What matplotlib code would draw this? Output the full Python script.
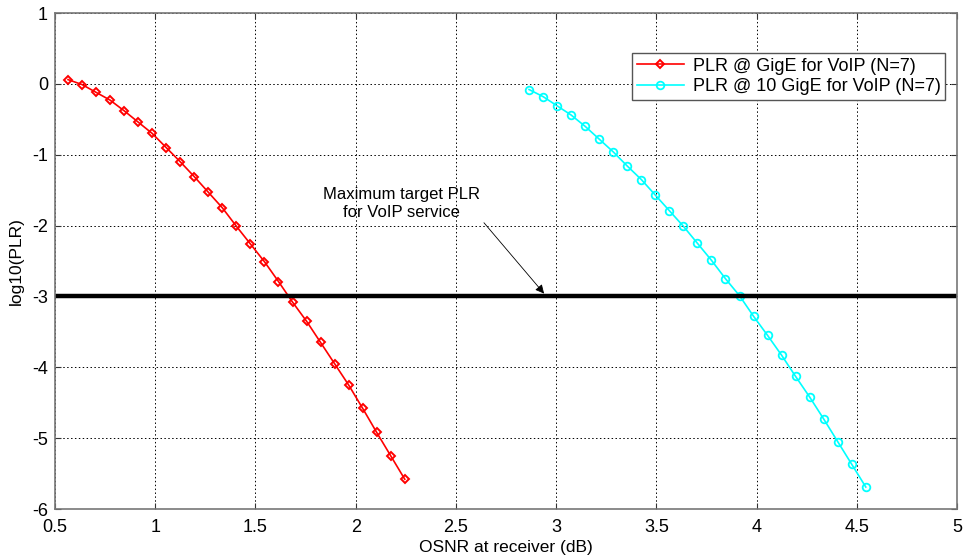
import matplotlib
matplotlib.use('Agg')
import matplotlib.pyplot as plt

plt.rcParams['font.family'] = ['Liberation Sans', 'DejaVu Sans']
plt.rcParams['axes.unicode_minus'] = False

# OSNR sweep (dB) and log10 packet loss ratio for each link rate
osnr_gige = [0.565, 0.635, 0.705, 0.775, 0.845, 0.915, 0.985, 1.055, 1.125,
             1.195, 1.265, 1.335, 1.405, 1.475, 1.545, 1.615, 1.685, 1.755,
             1.825, 1.895, 1.965, 2.035, 2.105, 2.175, 2.245]
plr_gige = [0.06, -0.01, -0.12, -0.23, -0.38, -0.54, -0.70, -0.90, -1.10,
            -1.31, -1.53, -1.75, -2.01, -2.26, -2.51, -2.79, -3.08, -3.35,
            -3.65, -3.95, -4.25, -4.58, -4.92, -5.25, -5.58]

osnr_10gige = [2.865, 2.935, 3.005, 3.075, 3.145, 3.215, 3.285, 3.355, 3.425,
               3.495, 3.565, 3.635, 3.705, 3.775, 3.845, 3.915, 3.985, 4.055,
               4.125, 4.195, 4.265, 4.335, 4.405, 4.475, 4.545]
plr_10gige = [-0.08, -0.18, -0.31, -0.44, -0.60, -0.78, -0.96, -1.16, -1.35,
              -1.57, -1.79, -2.01, -2.25, -2.49, -2.75, -2.99, -3.28, -3.55,
              -3.83, -4.13, -4.42, -4.73, -5.05, -5.37, -5.69]

target_plr = -3

fig = plt.figure(figsize=(9.66, 5.56), dpi=100)
ax = fig.add_axes([55 / 966, 1 - 509 / 556, 902 / 966, 496 / 556])

ax.plot(osnr_gige, plr_gige, color='red', lw=1.2, marker='D', ms=4.5,
        mfc='none', mec='red', mew=1.4, label='PLR @ GigE for VoIP (N=7)')
ax.plot(osnr_10gige, plr_10gige, color='cyan', lw=1.2, marker='o', ms=5.5,
        mfc='none', mec='cyan', mew=1.3, label='PLR @ 10 GigE for VoIP (N=7)')
ax.axhline(target_plr, color='black', lw=3.2)

# label for the target line, with the arrow pointing onto it
ax.text(2.23, -1.69, 'Maximum target PLR\nfor VoIP service', ha='center',
        va='center', fontsize=12, linespacing=1.2)
ax.annotate('', xy=(2.94, -2.96), xytext=(2.64, -1.96),
            arrowprops=dict(arrowstyle='-|>', color='black', lw=0.6,
                            mutation_scale=13, shrinkA=0, shrinkB=0))

ax.set_xlim(0.5, 5)
ax.set_ylim(-6, 1)
ax.set_xticks([0.5, 1, 1.5, 2, 2.5, 3, 3.5, 4, 4.5, 5])
ax.set_xticklabels(['0.5', '1', '1.5', '2', '2.5', '3', '3.5', '4', '4.5', '5'])
ax.set_yticks(range(-6, 2))
ax.grid(True, color='black', linestyle=(0, (1.5, 2.5)), lw=0.7)
ax.tick_params(direction='in', length=4, labelsize=13, colors='#333333',
               top=True, right=True, pad=5)
ax.tick_params(axis='x', pad=7)
ax.tick_params(labelcolor='black')
for s in ax.spines.values():
    s.set_color('#777777')
    s.set_linewidth(1.2)

ax.set_xlabel('OSNR at receiver (dB)', fontsize=12.5, labelpad=3)
ax.set_ylabel('log10(PLR)', fontsize=12.5, labelpad=6)

leg = ax.legend(loc='upper right', bbox_to_anchor=(945 / 966, 1 - 53 / 556),
                bbox_transform=fig.transFigure, fontsize=13, fancybox=False,
                framealpha=1, edgecolor='#555555', handlelength=2.6,
                borderpad=0.25, labelspacing=0.2, handletextpad=0.5,
                borderaxespad=0)
leg.get_frame().set_linewidth(1.0)

fig.savefig('out.png', dpi=100)
